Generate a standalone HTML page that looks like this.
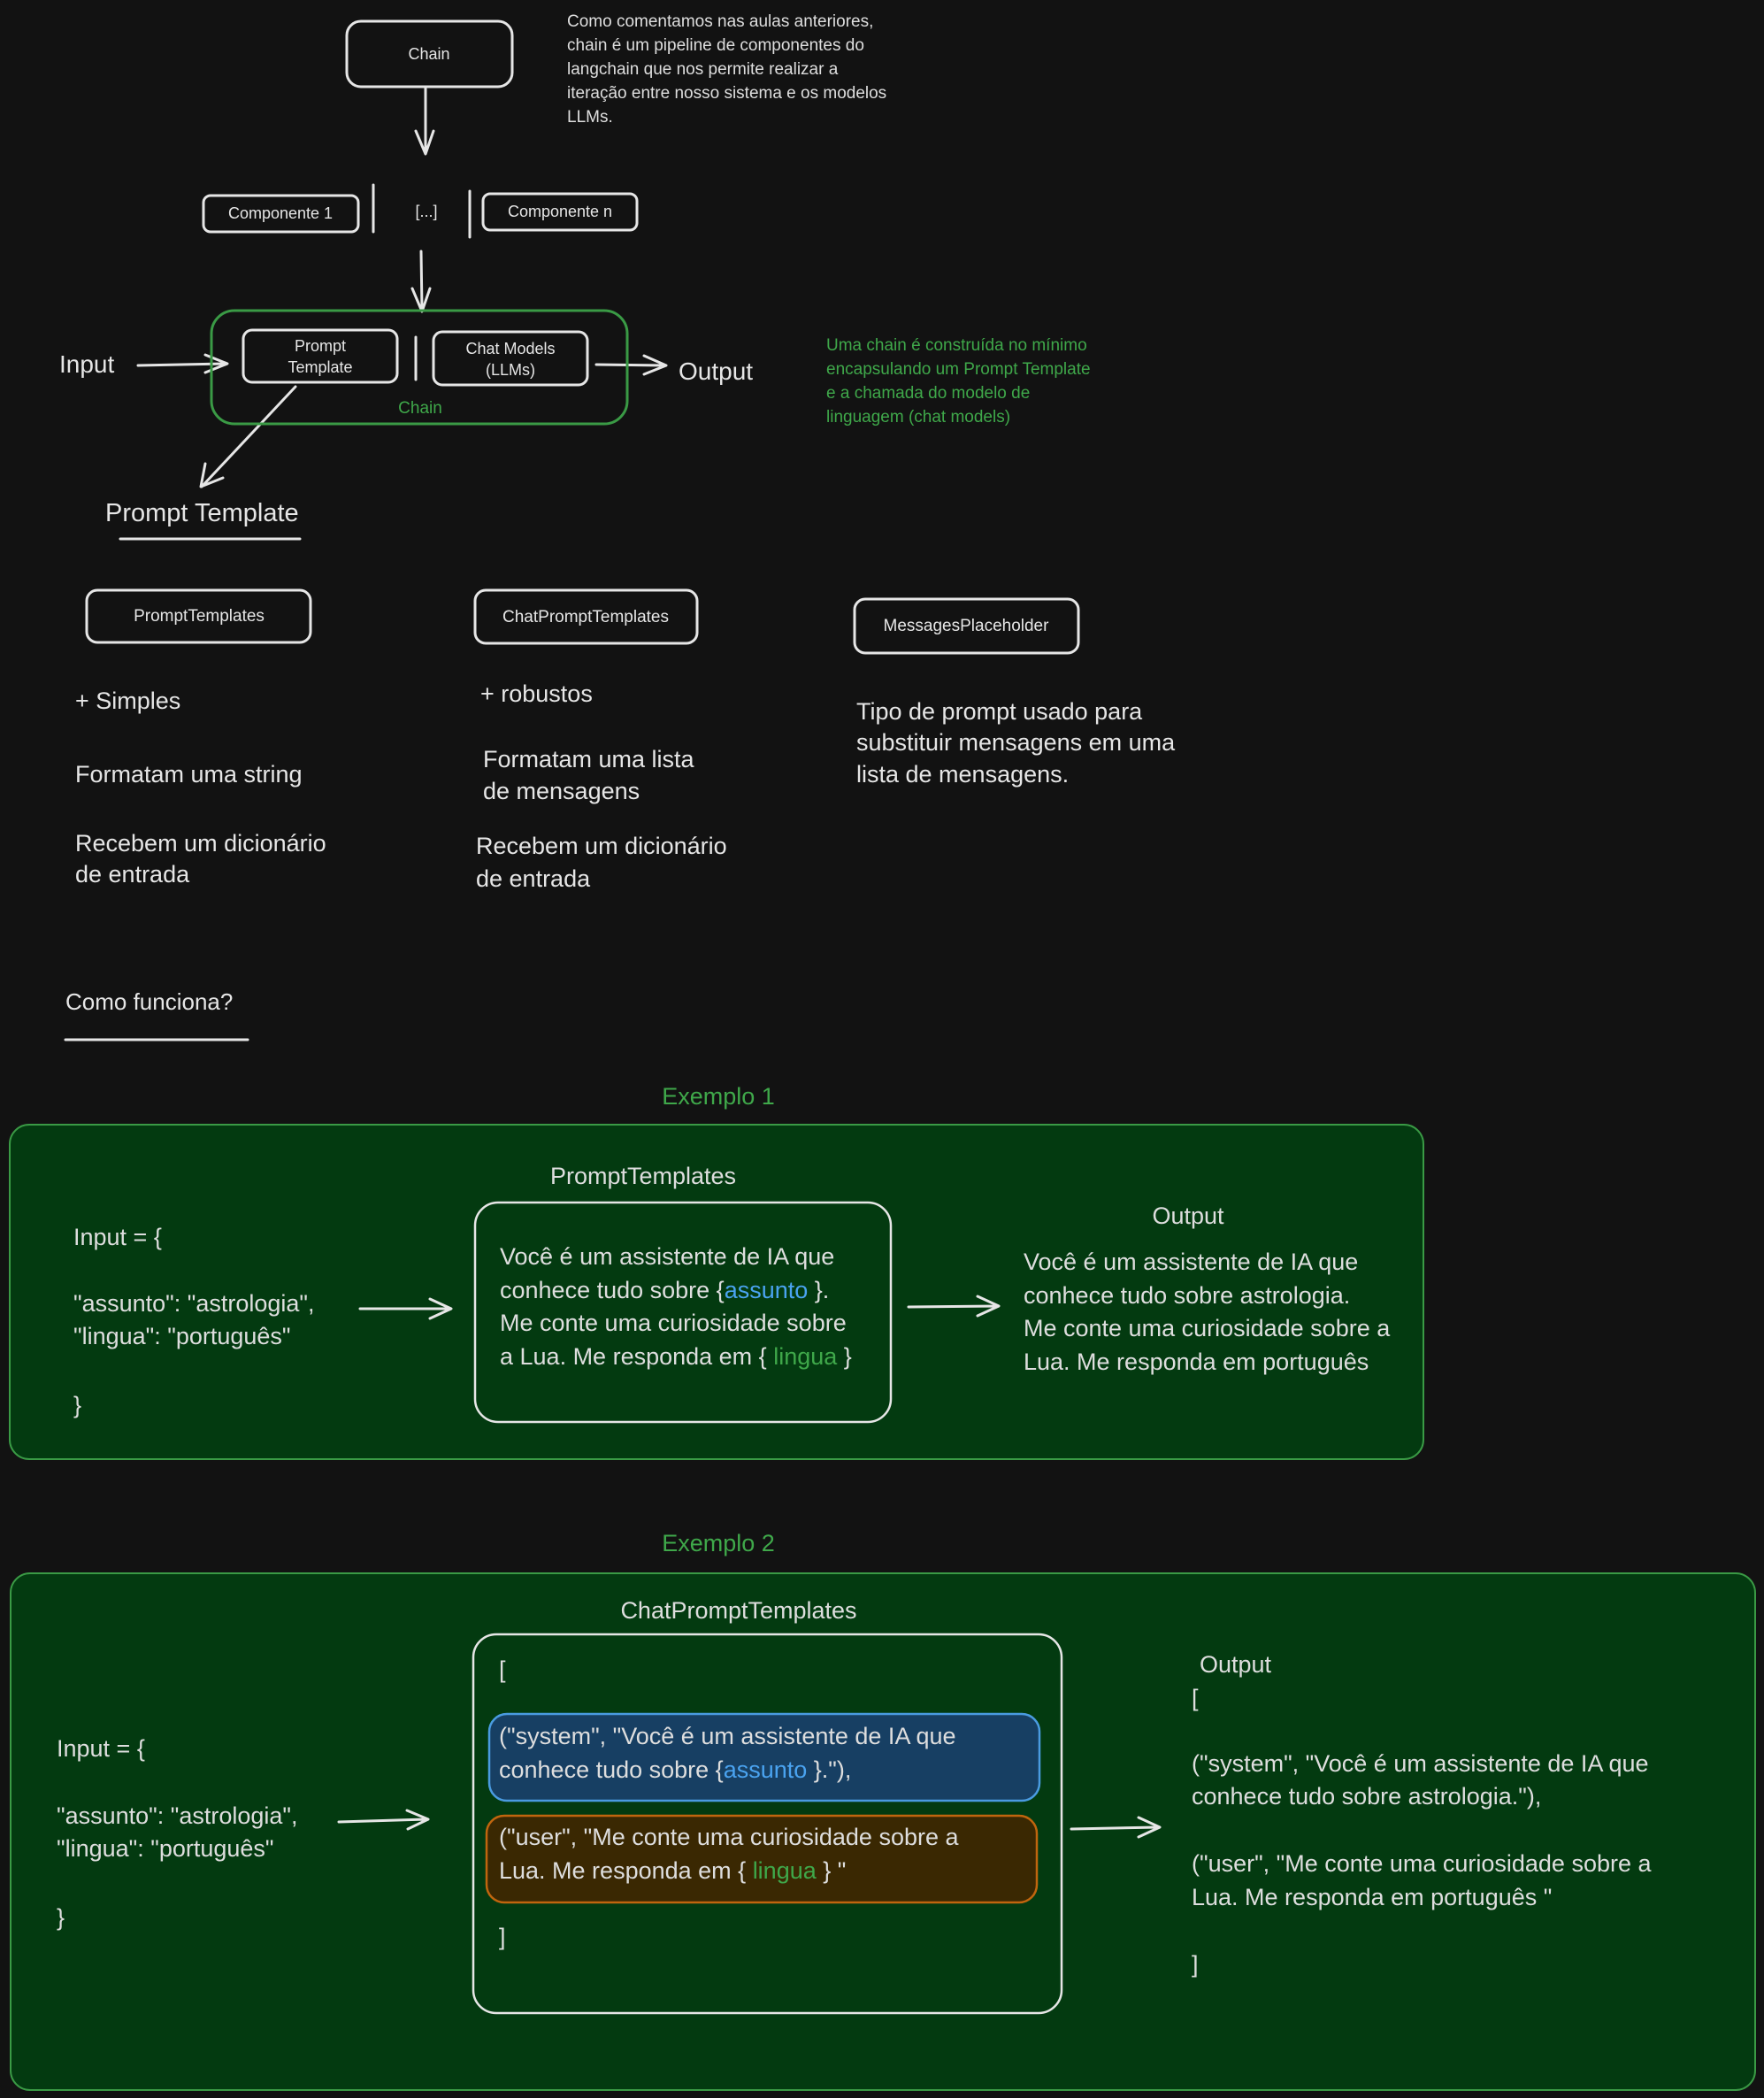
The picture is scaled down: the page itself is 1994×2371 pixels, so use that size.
<!DOCTYPE html>
<html><head><meta charset="utf-8"><style>
html,body{margin:0;padding:0;background:#121212;}
svg{display:block}
.h{font-family:"Liberation Sans","DejaVu Sans",sans-serif;fill:#e6e6e6}
.s{font-family:"Liberation Sans","DejaVu Sans",sans-serif;fill:#dedede}
</style></head><body>
<svg width="1994" height="2371" viewBox="0 0 1994 2371" xmlns="http://www.w3.org/2000/svg">
<rect width="1994" height="2371" fill="#121212"/>
<g fill="none" stroke="#e6e6e6" stroke-width="3" stroke-linecap="round" stroke-linejoin="round">
<rect x="392" y="24" width="187" height="74" rx="16"/>
<path d="M481 98 L481 172 M470 148 L481 174 L490 148"/>
<rect x="230" y="221" width="175" height="41" rx="8"/>
<path d="M422 209 L422 262 M531 216 L531 268"/>
<rect x="546" y="219" width="174" height="41" rx="8"/>
<path d="M476 284 L477 350 M466 326 L477 352 L486 326"/>
<rect x="275" y="373" width="174" height="59" rx="10"/>
<path d="M470 381 L470 429"/>
<rect x="490" y="375" width="174" height="60" rx="10"/>
<path d="M156 413 L254 411 M232 401 L257 411 L232 421"/>
<path d="M674 412 L751 413 M728 402 L753 413 L728 423"/>
<path d="M334 437 L228 550 M232 524 L227 550 L252 540"/>
<path d="M136 609 L339 609"/>
<rect x="98" y="667" width="253" height="59" rx="12"/>
<rect x="537" y="667" width="251" height="60" rx="12"/>
<rect x="966" y="677" width="253" height="61" rx="12"/>
<path d="M74 1175 L280 1175"/>
</g>
<rect x="239" y="351" width="470" height="128" rx="26" fill="none" stroke="#3a9a45" stroke-width="3"/>

<text x="485" y="67" font-size="18" text-anchor="middle" class="h">Chain</text>
<g class="s" font-size="19" fill="#c8c8c8">
<text x="641" y="30">Como comentamos nas aulas anteriores,</text>
<text x="641" y="57">chain é um pipeline de componentes do</text>
<text x="641" y="84">langchain que nos permite realizar a</text>
<text x="641" y="111">iteração entre nosso sistema e os modelos</text>
<text x="641" y="138">LLMs.</text>
</g>
<g class="h" font-size="18" text-anchor="middle">
<text x="317" y="247">Componente 1</text>
<text x="482" y="245">[...]</text>
<text x="633" y="245">Componente n</text>
<text x="362" y="397">Prompt</text>
<text x="362" y="421">Template</text>
<text x="577" y="400">Chat Models</text>
<text x="577" y="424">(LLMs)</text>
</g>
<text x="475" y="467" font-size="19" text-anchor="middle" class="s" style="fill:#3fa84a">Chain</text>
<text x="67" y="421" font-size="28" class="h">Input</text>
<text x="767" y="429" font-size="28" class="h">Output</text>
<g class="s" font-size="19" style="fill:#3fa84a">
<text x="934" y="396">Uma chain é construída no mínimo</text>
<text x="934" y="423">encapsulando um Prompt Template</text>
<text x="934" y="450">e a chamada do modelo de</text>
<text x="934" y="477">linguagem (chat models)</text>
</g>
<text x="119" y="589" font-size="29" class="h">Prompt Template</text>
<g class="h" font-size="19" text-anchor="middle">
<text x="225" y="702">PromptTemplates</text>
<text x="662" y="703">ChatPromptTemplates</text>
<text x="1092" y="713">MessagesPlaceholder</text>
</g>
<g class="h" font-size="27">
<text x="85" y="801">+ Simples</text>
<text x="85" y="884">Formatam uma string</text>
<text x="85" y="962">Recebem um dicionário</text>
<text x="85" y="997">de entrada</text>
<text x="543" y="793">+ robustos</text>
<text x="546" y="867">Formatam uma lista</text>
<text x="546" y="903">de mensagens</text>
<text x="538" y="965">Recebem um dicionário</text>
<text x="538" y="1002">de entrada</text>
<text x="968" y="813">Tipo de prompt usado para</text>
<text x="968" y="848">substituir mensagens em uma</text>
<text x="968" y="884">lista de mensagens.</text>
</g>
<text x="74" y="1141" font-size="26" class="h">Como funciona?</text>

<text x="812" y="1248" font-size="27" text-anchor="middle" class="s" style="fill:#3fa84a">Exemplo 1</text>
<rect x="11" y="1271" width="1598" height="378" rx="22" fill="#033a10" stroke="#3a9a45" stroke-width="2"/>
<g class="s" font-size="27">
<text x="727" y="1338" text-anchor="middle">PromptTemplates</text>
<text x="83" y="1407">Input = {</text>
<text x="83" y="1482">"assunto": "astrologia",</text>
<text x="83" y="1519">"lingua": "português"</text>
<text x="83" y="1597">}</text>
<text x="565" y="1429">Você é um assistente de IA que</text>
<text x="565" y="1467">conhece tudo sobre {<tspan style="fill:#4aa3f0">assunto</tspan> }.</text>
<text x="565" y="1504">Me conte uma curiosidade sobre</text>
<text x="565" y="1542">a Lua. Me responda em { <tspan style="fill:#3fa84a">lingua</tspan> }</text>
<text x="1343" y="1383" text-anchor="middle">Output</text>
<text x="1157" y="1435">Você é um assistente de IA que</text>
<text x="1157" y="1473">conhece tudo sobre astrologia.</text>
<text x="1157" y="1510">Me conte uma curiosidade sobre a</text>
<text x="1157" y="1548">Lua. Me responda em português</text>
</g>
<rect x="537" y="1359" width="470" height="248" rx="26" fill="none" stroke="#e6e6e6" stroke-width="2.5"/>
<g fill="none" stroke="#e6e6e6" stroke-width="3" stroke-linecap="round" stroke-linejoin="round">
<path d="M407 1479 L508 1479 M486 1468 L510 1479 L486 1490"/>
<path d="M1027 1477 L1127 1476 M1105 1465 L1129 1476 L1105 1487"/>
</g>

<text x="812" y="1753" font-size="27" text-anchor="middle" class="s" style="fill:#3fa84a">Exemplo 2</text>
<rect x="12" y="1778" width="1972" height="584" rx="22" fill="#033a10" stroke="#3a9a45" stroke-width="2"/>
<rect x="535" y="1847" width="665" height="428" rx="26" fill="none" stroke="#e6e6e6" stroke-width="2.5"/>
<rect x="553" y="1937" width="622" height="98" rx="20" fill="#173f63" stroke="#4a9be0" stroke-width="2.5"/>
<rect x="550" y="2052" width="622" height="98" rx="20" fill="#3a2802" stroke="#c0650e" stroke-width="2.5"/>
<g fill="none" stroke="#e6e6e6" stroke-width="3" stroke-linecap="round" stroke-linejoin="round">
<path d="M383 2059 L482 2056 M460 2046 L484 2056 L461 2067"/>
<path d="M1211 2067 L1309 2065 M1287 2054 L1311 2065 L1287 2076"/>
</g>
<g class="s" font-size="27">
<text x="835" y="1829" text-anchor="middle">ChatPromptTemplates</text>
<text x="564" y="1896">[</text>
<text x="564" y="1971">("system", "Você é um assistente de IA que</text>
<text x="564" y="2009">conhece tudo sobre {<tspan style="fill:#4aa3f0">assunto</tspan> }."),</text>
<text x="564" y="2085">("user", "Me conte uma curiosidade sobre a</text>
<text x="564" y="2123">Lua. Me responda em { <tspan style="fill:#3fa84a">lingua</tspan> } "</text>
<text x="564" y="2198">]</text>
<text x="64" y="1985">Input = {</text>
<text x="64" y="2061">"assunto": "astrologia",</text>
<text x="64" y="2098">"lingua": "português"</text>
<text x="64" y="2176">}</text>
<text x="1356" y="1890">Output</text>
<text x="1347" y="1928">[</text>
<text x="1347" y="2002">("system", "Você é um assistente de IA que</text>
<text x="1347" y="2039">conhece tudo sobre astrologia."),</text>
<text x="1347" y="2115">("user", "Me conte uma curiosidade sobre a</text>
<text x="1347" y="2153">Lua. Me responda em português "</text>
<text x="1347" y="2229">]</text>
</g>
</svg>
</body></html>
